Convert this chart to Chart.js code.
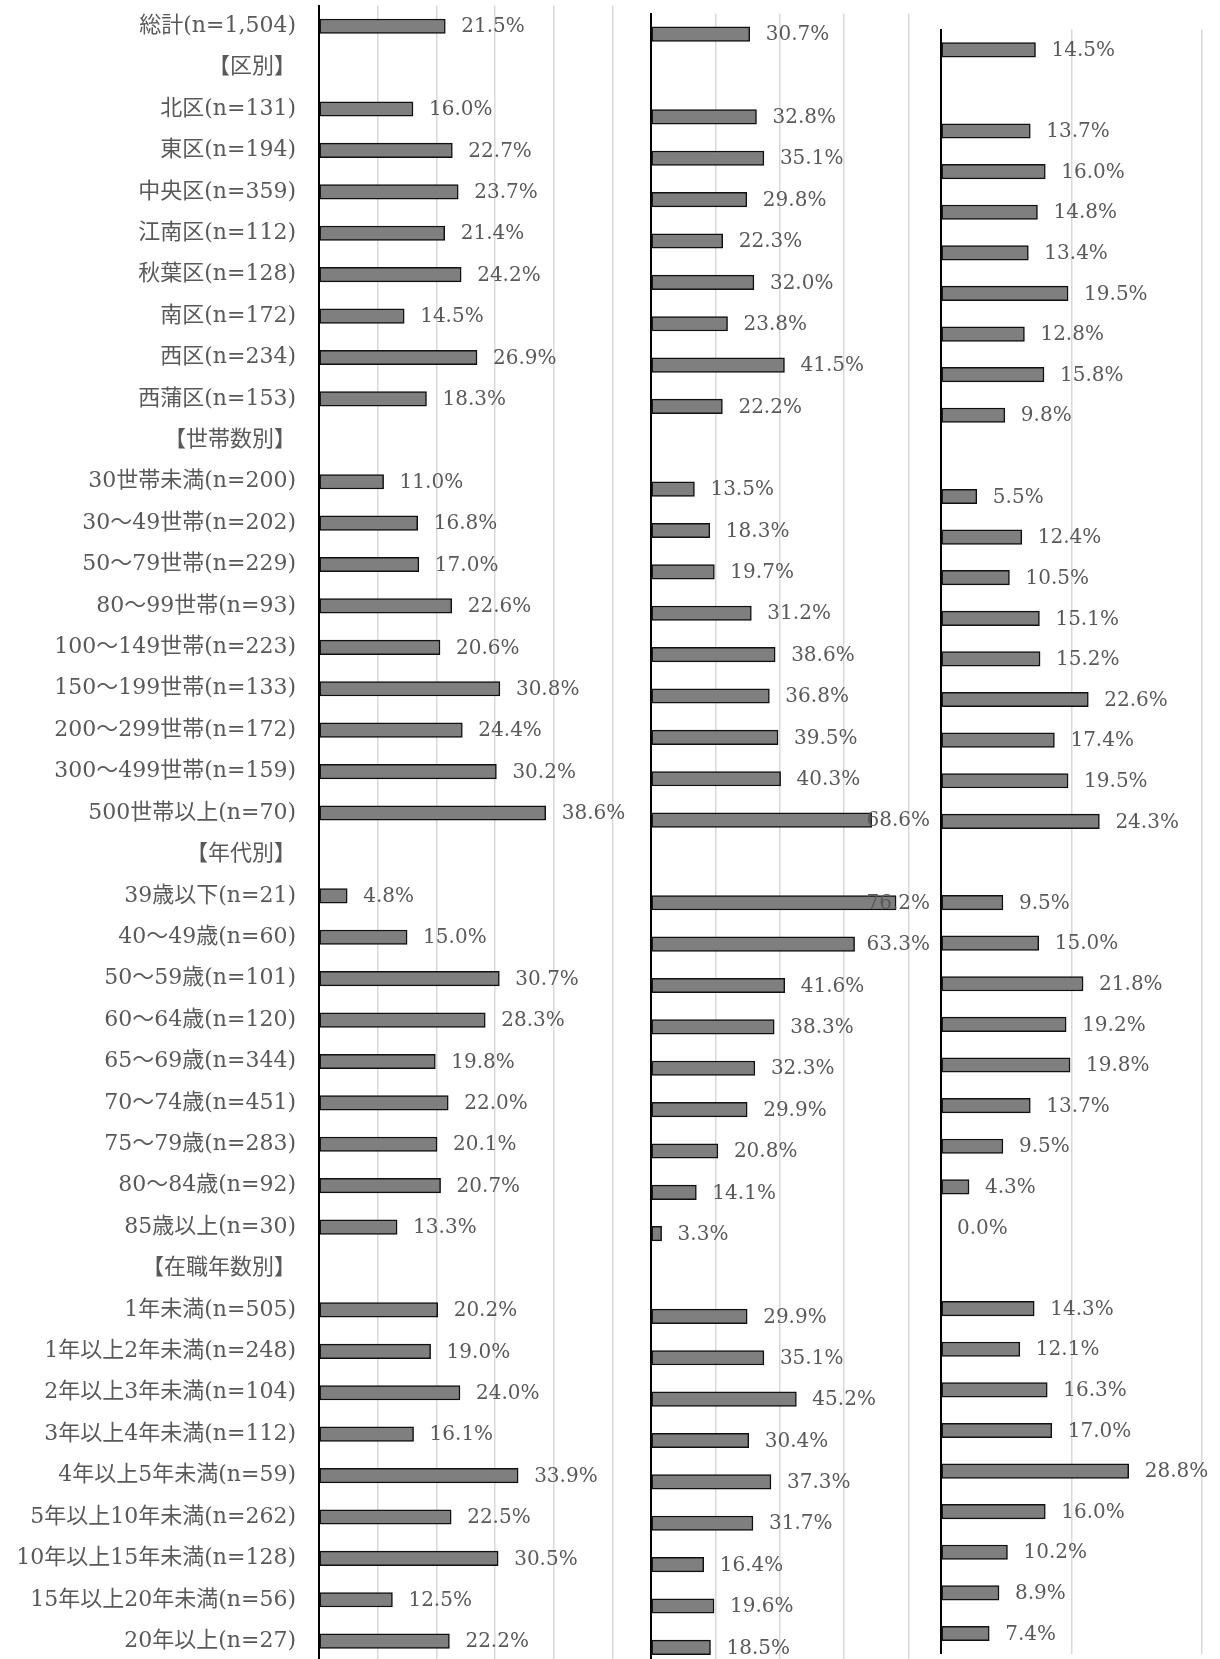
<!DOCTYPE html>
<html lang="ja">
<head>
<meta charset="utf-8">
<title>chart</title>
<script src="https://cdn.jsdelivr.net/npm/chart.js@4.4.1/dist/chart.umd.min.js"></script>
<style>
  html, body { margin: 0; padding: 0; background: #fff; overflow: hidden; }
  body { width: 1220px; height: 1659px; position: relative; }
  canvas { position: absolute; top: 0; }
  #chart1 { left: 0; }
  #chart2 { left: 620px; }
  #chart3 { left: 930px; }
</style>
</head>
<body>
<canvas id="chart1" width="640" height="1680"></canvas>
<canvas id="chart2" width="330" height="1700"></canvas>
<canvas id="chart3" width="290" height="1680"></canvas>
<script>
const categories = [
  '総計(n=1,504)', '【区別】',
  '北区(n=131)', '東区(n=194)', '中央区(n=359)', '江南区(n=112)', '秋葉区(n=128)',
  '南区(n=172)', '西区(n=234)', '西蒲区(n=153)',
  '【世帯数別】',
  '30世帯未満(n=200)', '30～49世帯(n=202)', '50～79世帯(n=229)', '80～99世帯(n=93)',
  '100～149世帯(n=223)', '150～199世帯(n=133)', '200～299世帯(n=172)', '300～499世帯(n=159)',
  '500世帯以上(n=70)',
  '【年代別】',
  '39歳以下(n=21)', '40～49歳(n=60)', '50～59歳(n=101)', '60～64歳(n=120)', '65～69歳(n=344)',
  '70～74歳(n=451)', '75～79歳(n=283)', '80～84歳(n=92)', '85歳以上(n=30)',
  '【在職年数別】',
  '1年未満(n=505)', '1年以上2年未満(n=248)', '2年以上3年未満(n=104)', '3年以上4年未満(n=112)',
  '4年以上5年未満(n=59)', '5年以上10年未満(n=262)', '10年以上15年未満(n=128)',
  '15年以上20年未満(n=56)', '20年以上(n=27)'
];

// header rows (【...】) have no value
const values1 = [
  21.5, null,
  16.0, 22.7, 23.7, 21.4, 24.2, 14.5, 26.9, 18.3,
  null,
  11.0, 16.8, 17.0, 22.6, 20.6, 30.8, 24.4, 30.2, 38.6,
  null,
  4.8, 15.0, 30.7, 28.3, 19.8, 22.0, 20.1, 20.7, 13.3,
  null,
  20.2, 19.0, 24.0, 16.1, 33.9, 22.5, 30.5, 12.5, 22.2
];
const values2 = [
  30.7, null,
  32.8, 35.1, 29.8, 22.3, 32.0, 23.8, 41.5, 22.2,
  null,
  13.5, 18.3, 19.7, 31.2, 38.6, 36.8, 39.5, 40.3, 68.6,
  null,
  76.2, 63.3, 41.6, 38.3, 32.3, 29.9, 20.8, 14.1, 3.3,
  null,
  29.9, 35.1, 45.2, 30.4, 37.3, 31.7, 16.4, 19.6, 18.5
];
const values3 = [
  14.5, null,
  13.7, 16.0, 14.8, 13.4, 19.5, 12.8, 15.8, 9.8,
  null,
  5.5, 12.4, 10.5, 15.1, 15.2, 22.6, 17.4, 19.5, 24.3,
  null,
  9.5, 15.0, 21.8, 19.2, 19.8, 13.7, 9.5, 4.3, 0.0,
  null,
  14.3, 12.1, 16.3, 17.0, 28.8, 16.0, 10.2, 8.9, 7.4
];

// axis max / gridline step of each panel
const axisMax = [50, 80, 40];
const axisStep = [10, 20, 20];

const textColor = '#595959';

// value labels outside the bar end, pushed back in if they pass maxRight
const valueLabels = {
  id: 'valueLabels',
  afterDatasetsDraw(chart, args, opts) {
    const ctx = chart.ctx;
    const meta = chart.getDatasetMeta(0);
    const data = chart.data.datasets[0].data;
    ctx.save();
    ctx.font = '20px "DejaVu Serif"';
    ctx.fillStyle = textColor;
    ctx.textBaseline = 'middle';
    ctx.textAlign = 'left';
    meta.data.forEach((bar, i) => {
      if (data[i] == null) return;
      const txt = data[i].toFixed(1) + '%';
      const w = ctx.measureText(txt).width;
      let x = bar.x + 16;
      if (opts.maxRight && x + w > opts.maxRight) x = opts.maxRight - w;
      ctx.fillText(txt, x, bar.y + 1);
    });
    ctx.restore();
  }
};

function makeChart(id, values, idx, axisWidth, pad, showLabels, maxRight) {
  return new Chart(document.querySelector(id), {
    type: 'bar',
    data: {
      labels: categories,
      datasets: [{
        data: values,
        backgroundColor: '#7f7f7f',
        borderColor: '#111',
        borderWidth: 1.5,
        borderSkipped: false,
        barThickness: 14.5
      }]
    },
    options: {
      indexAxis: 'y',
      responsive: false,
      animation: false,
      layout: { padding: pad },
      plugins: {
        legend: { display: false },
        tooltip: { enabled: false },
        valueLabels: { maxRight: maxRight }
      },
      scales: {
        x: {
          min: 0,
          max: axisMax[idx],
          ticks: { display: false, stepSize: axisStep[idx] },
          grid: { color: '#d9d9d9', lineWidth: 1.5, drawTicks: false },
          border: { display: false },
          afterFit: (s) => { s.height = 0; }
        },
        y: {
          grid: { display: false },
          border: { display: true, color: '#000', width: 2 },
          ticks: {
            display: showLabels,
            autoSkip: false,
            padding: 15,
            color: textColor,
            font: { family: '"DejaVu Serif", "Noto Sans CJK JP"', size: 22 }
          },
          afterFit: (s) => {
            s.width = axisWidth;
            s.paddingTop = 0;
            s.paddingBottom = 0;
          }
        }
      }
    },
    plugins: [valueLabels]
  });
}

window.onload = () => {
  makeChart('#chart1', values1, 0, 319, { left: 0, top: 5.5, right: 27.3, bottom: 18.1 }, true, 0);
  makeChart('#chart2', values2, 1, 31, { left: 0, top: 13.5, right: 41.7, bottom: 32 }, false, 310);
  makeChart('#chart3', values3, 2, 11, { left: 0, top: 29.5, right: 18.3, bottom: 26.2 }, false, 0);
};
</script>
</body>
</html>
